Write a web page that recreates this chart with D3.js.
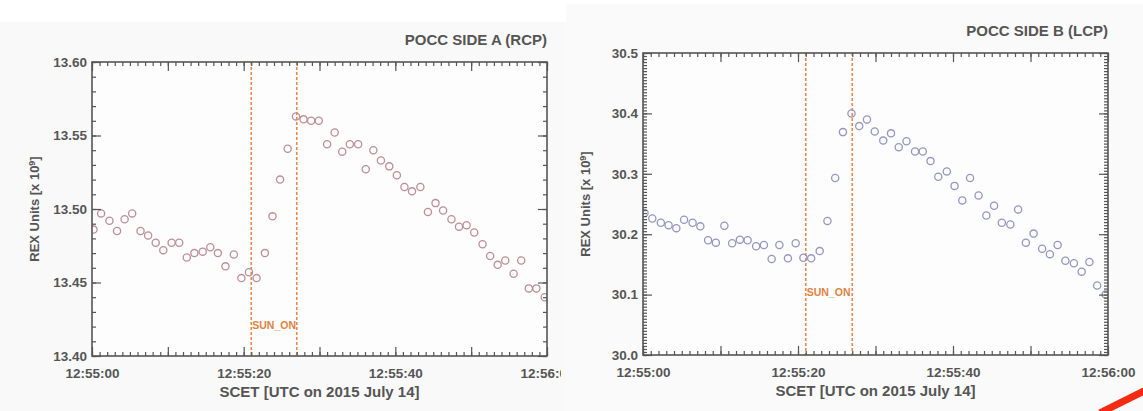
<!DOCTYPE html>
<html>
<head>
<meta charset="utf-8">
<script src="https://cdn.jsdelivr.net/npm/d3@7"></script>
<style>
  body { margin: 0; background: #fff; }
  svg { display: block; font-family: "Liberation Sans", Arial, sans-serif; }
</style>
</head>
<body>
<div id="chart"></div>
<script>
// sample times, seconds after 12:55:00 UTC
const SECS = [0.2, 1.2, 2.3, 3.3, 4.3, 5.3, 6.4, 7.4, 8.4, 9.4,
              10.5, 11.5, 12.5, 13.5, 14.6, 15.6, 16.6, 17.6, 18.7, 19.7,
              20.7, 21.7, 22.8, 23.8, 24.8, 25.8, 26.9, 27.9, 28.9, 29.9,
              31.0, 32.0, 33.0, 34.0, 35.1, 36.1, 37.1, 38.1, 39.2, 40.2,
              41.2, 42.2, 43.3, 44.3, 45.3, 46.3, 47.4, 48.4, 49.4, 50.4,
              51.5, 52.5, 53.5, 54.5, 55.6, 56.6, 57.6, 58.6, 59.7];

// side A (RCP) readings, x 10^9
const RCP_VALUES = [13.486, 13.497, 13.492, 13.485, 13.493, 13.497, 13.485, 13.482, 13.477, 13.472,
                    13.477, 13.477, 13.467, 13.470, 13.471, 13.474, 13.470, 13.461, 13.469, 13.453,
                    13.457, 13.453, 13.470, 13.495, 13.520, 13.541, 13.563, 13.561, 13.560, 13.560,
                    13.544, 13.552, 13.539, 13.544, 13.544, 13.527, 13.540, 13.533, 13.529, 13.523,
                    13.515, 13.512, 13.515, 13.498, 13.504, 13.499, 13.493, 13.488, 13.489, 13.484,
                    13.476, 13.468, 13.462, 13.465, 13.456, 13.465, 13.446, 13.446, 13.440];

// side B (LCP) readings, x 10^9
const LCP_VALUES = [30.235, 30.226, 30.219, 30.215, 30.210, 30.224, 30.219, 30.213, 30.190, 30.186,
                    30.214, 30.185, 30.191, 30.190, 30.180, 30.182, 30.159, 30.182, 30.160, 30.185,
                    30.161, 30.160, 30.172, 30.222, 30.293, 30.369, 30.400, 30.379, 30.390, 30.370,
                    30.355, 30.367, 30.344, 30.354, 30.337, 30.337, 30.321, 30.295, 30.304, 30.280,
                    30.256, 30.293, 30.264, 30.231, 30.247, 30.219, 30.216, 30.241, 30.186, 30.201,
                    30.176, 30.167, 30.182, 30.156, 30.152, 30.138, 30.154, 30.115, 30.100];

// SUN_ON window (seconds)
const SUN_ON = [21, 27];

const X_LABEL_TICKS = [0, 20, 40, 60];
const X_MAJOR_TICKS = [0, 10, 20, 30, 40, 50, 60];
const X_MINOR_TICKS = d3.range(0, 61, 1);
const RCP_Y_TICKS = [13.40, 13.45, 13.50, 13.55, 13.60];
const LCP_Y_TICKS = [30.0, 30.1, 30.2, 30.3, 30.4, 30.5];

const FRAME_WIDTH = 1143;
const FRAME_HEIGHT = 411;
const AXIS_COLOR = "#555";

const FRAME = d3.select("#chart")
                .append("svg")
                  .attr("width", FRAME_WIDTH)
                  .attr("height", FRAME_HEIGHT);

// two screenshot panels, very light grey
FRAME.append("rect").attr("x", 0).attr("y", 22).attr("width", 566).attr("height", FRAME_HEIGHT - 22)
     .attr("fill", "#f9f9f9");
FRAME.append("rect").attr("x", 566).attr("y", 4).attr("width", FRAME_WIDTH - 566).attr("height", FRAME_HEIGHT - 4)
     .attr("fill", "#fafafa");

// "12:55:SS" style labels
function fmtTime(s) {
    const m = 55 + Math.floor(s / 60);
    const sec = s % 60;
    return "12:" + m + ":" + String(sec).padStart(2, "0");
}

function build_panel(cfg) {
    const clipId = "clip" + cfg.id;
    const boxId = "box" + cfg.id;
    const defs = FRAME.append("defs");
    defs.append("clipPath").attr("id", clipId)
        .append("rect").attr("x", cfg.panelX).attr("y", 0)
        .attr("width", cfg.panelW).attr("height", FRAME_HEIGHT);
    defs.append("clipPath").attr("id", boxId)
        .append("rect").attr("x", cfg.left).attr("y", cfg.top)
        .attr("width", cfg.right - cfg.left).attr("height", cfg.bottom - cfg.top);

    const G = FRAME.append("g").attr("clip-path", "url(#" + clipId + ")");

    const X_SCALE = d3.scaleLinear().domain([0, 60]).range([cfg.left, cfg.right]);
    const Y_SCALE = d3.scaleLinear().domain(cfg.yDomain).range([cfg.bottom, cfg.top]);

    // plot area
    G.append("rect")
        .attr("x", cfg.left).attr("y", cfg.top)
        .attr("width", cfg.right - cfg.left).attr("height", cfg.bottom - cfg.top)
        .attr("fill", "#fdfdfd");

    // SUN_ON markers
    G.selectAll(".sun")
        .data(SUN_ON)
        .enter()
        .append("line")
          .attr("x1", (d) => X_SCALE(d)).attr("x2", (d) => X_SCALE(d))
          .attr("y1", cfg.top).attr("y2", cfg.bottom)
          .attr("stroke", "#e8884a")
          .attr("stroke-width", 1.6)
          .attr("stroke-dasharray", "3,2");

    G.append("text")
        .attr("x", X_SCALE(SUN_ON[0]) + 1)
        .attr("y", Y_SCALE(cfg.sunOnY))
        .attr("dy", "0.35em")
        .attr("font-size", "10.5px")
        .attr("font-weight", "bold")
        .attr("fill", "#e0823e")
        .text("SUN_ON");

    // points
    G.append("g").attr("clip-path", "url(#" + boxId + ")")
      .selectAll("circle")
        .data(cfg.values)
        .enter()
        .append("circle")
          .attr("cx", (d, i) => X_SCALE(SECS[i]))
          .attr("cy", (d) => Y_SCALE(d))
          .attr("r", 3.6)
          .attr("fill", "none")
          .attr("stroke", cfg.color)
          .attr("stroke-width", 1.3);

    // inward ticks on all four sides
    const addAxis = (axis, tx, ty) => {
        const a = G.append("g")
            .attr("transform", "translate(" + tx + "," + ty + ")")
            .call(axis);
        a.select(".domain").remove();
        a.selectAll("line").attr("stroke", AXIS_COLOR).attr("stroke-width", 1.2);
        return a;
    };
    addAxis(d3.axisBottom(X_SCALE).tickValues(X_MINOR_TICKS).tickSize(-4).tickFormat(""), 0, cfg.bottom);
    addAxis(d3.axisBottom(X_SCALE).tickValues(X_MAJOR_TICKS).tickSize(-9).tickFormat(""), 0, cfg.bottom);
    addAxis(d3.axisTop(X_SCALE).tickValues(X_MINOR_TICKS).tickSize(-4).tickFormat(""), 0, cfg.top);
    addAxis(d3.axisTop(X_SCALE).tickValues(X_MAJOR_TICKS).tickSize(-9).tickFormat(""), 0, cfg.top);
    addAxis(d3.axisLeft(Y_SCALE).tickValues(cfg.yMinor).tickSize(-4).tickFormat(""), cfg.left, 0);
    addAxis(d3.axisLeft(Y_SCALE).tickValues(cfg.yTicks).tickSize(-9).tickFormat(""), cfg.left, 0);
    addAxis(d3.axisRight(Y_SCALE).tickValues(cfg.yMinor).tickSize(-4).tickFormat(""), cfg.right, 0);
    addAxis(d3.axisRight(Y_SCALE).tickValues(cfg.yTicks).tickSize(-9).tickFormat(""), cfg.right, 0);

    // tick labels
    const xl = addAxis(d3.axisBottom(X_SCALE).tickValues(X_LABEL_TICKS).tickSize(0).tickPadding(12)
                         .tickFormat(fmtTime), 0, cfg.bottom);
    const yl = addAxis(d3.axisLeft(Y_SCALE).tickValues(cfg.yTicks).tickSize(0).tickPadding(5)
                         .tickFormat(d3.format(cfg.yFormat)), cfg.left, 0);
    [xl, yl].forEach((a) => {
        a.selectAll("text")
          .attr("font-family", "'Liberation Sans', Arial, sans-serif")
          .attr("font-size", "13.5px")
          .attr("font-weight", "bold")
          .attr("fill", AXIS_COLOR);
    });

    // frame box
    G.append("rect")
        .attr("x", cfg.left).attr("y", cfg.top)
        .attr("width", cfg.right - cfg.left).attr("height", cfg.bottom - cfg.top)
        .attr("fill", "none")
        .attr("stroke", AXIS_COLOR)
        .attr("stroke-width", 1.6);

    // title
    G.append("text")
        .attr("x", cfg.right)
        .attr("y", cfg.top - 17)
        .attr("text-anchor", "end")
        .attr("font-size", "15px")
        .attr("font-weight", "bold")
        .attr("fill", AXIS_COLOR)
        .text(cfg.title);

    // x axis title
    G.append("text")
        .attr("x", (cfg.left + cfg.right) / 2)
        .attr("y", cfg.bottom + 41)
        .attr("text-anchor", "middle")
        .attr("font-size", "15px")
        .attr("font-weight", "bold")
        .attr("fill", AXIS_COLOR)
        .text("SCET [UTC on 2015 July 14]");

    // y axis title
    const yt = G.append("text")
        .attr("transform", "translate(" + (cfg.left - 53) + "," + ((cfg.top + cfg.bottom) / 2) + ") rotate(-90)")
        .attr("text-anchor", "middle")
        .attr("font-size", "13px")
        .attr("font-weight", "bold")
        .attr("fill", AXIS_COLOR);
    yt.append("tspan").text("REX Units [x 10");
    yt.append("tspan").attr("font-size", "9px").attr("dy", "-0.5em").text("9");
    yt.append("tspan").attr("dy", "0.35em").text("]");
}

build_panel({
    id: "A", panelX: 0, panelW: 561,
    left: 92, right: 547, top: 62, bottom: 356,
    yDomain: [13.40, 13.60], yTicks: RCP_Y_TICKS, yMinor: d3.range(13.40, 13.605, 0.01),
    yFormat: ".2f", values: RCP_VALUES, color: "#bb8f98",
    sunOnY: 13.421, title: "POCC SIDE A (RCP)"
});

build_panel({
    id: "B", panelX: 566, panelW: FRAME_WIDTH - 566,
    left: 643, right: 1108, top: 53, bottom: 355,
    yDomain: [30.0, 30.5], yTicks: LCP_Y_TICKS, yMinor: d3.range(30.0, 30.5025, 0.005),
    yFormat: ".1f", values: LCP_VALUES, color: "#9696c0",
    sunOnY: 30.104, title: "POCC SIDE B (LCP)"
});

// red pen stroke in the lower right corner
FRAME.append("line")
    .attr("x1", 1100).attr("y1", 413)
    .attr("x2", 1146).attr("y2", 390)
    .attr("stroke", "#f52a12")
    .attr("stroke-width", 7);
</script>
</body>
</html>
